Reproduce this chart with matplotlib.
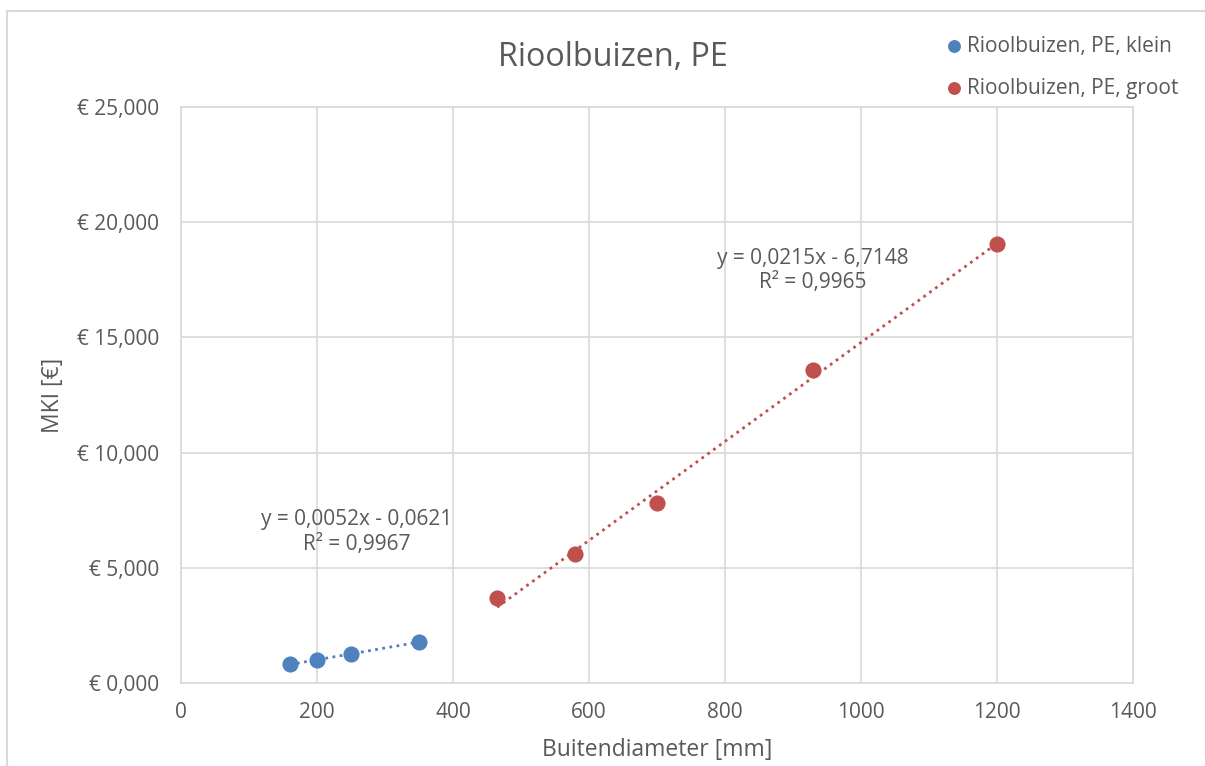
import numpy as np
import matplotlib
matplotlib.use("Agg")
import matplotlib.pyplot as plt
from matplotlib.lines import Line2D

# Data
klein_x = [160, 200, 250, 350]
klein_y = [0.83, 0.99, 1.24, 1.79]
groot_x = [465, 580, 700, 930, 1200]
groot_y = [3.67, 5.60, 7.80, 13.60, 19.07]
klein_label = "Rioolbuizen, PE, klein"
groot_label = "Rioolbuizen, PE, groot"
klein_eq = "y = 0,0052x - 0,0621\nR² = 0,9967"
groot_eq = "y = 0,0215x - 6,7148\nR² = 0,9965"
title = "Rioolbuizen, PE"
xlabel = "Buitendiameter [mm]"
ylabel = "MKI [€]"
xticks = [0, 200, 400, 600, 800, 1000, 1200, 1400]
yticks = [0, 5, 10, 15, 20, 25]

BLUE = "#4F81BD"
RED = "#C0504D"
TXT = "#595959"
GRID = "#D9D9D9"

plt.rcParams['font.family'] = ['Open Sans', 'DejaVu Sans']

fig = plt.figure(figsize=(12.05, 7.66), dpi=100)
ax = fig.add_axes([181/1205, 1-683/766, (1133-181)/1205, (683-107)/766])

# trendlines
for xs, ys, c in [(klein_x, klein_y, BLUE), (groot_x, groot_y, RED)]:
    k, b = np.polyfit(xs, ys, 1)
    xx = np.array([min(xs), max(xs)])
    ax.plot(xx, k*xx + b, color=c, lw=2.0, ls=(0, (1, 1.6)), zorder=2)

ax.scatter(klein_x, klein_y, s=135, color=BLUE, zorder=3, label=klein_label, linewidths=0)
ax.scatter(groot_x, groot_y, s=135, color=RED, zorder=3, label=groot_label, linewidths=0)

ax.set_xlim(0, 1400)
ax.set_ylim(0, 25)
ax.set_xticks(xticks)
ax.set_yticks(yticks)
ax.set_yticklabels([("€ %.3f" % v).replace('.', ',') for v in yticks])
ax.grid(True, color=GRID, lw=1.2)
ax.set_axisbelow(True)
for s in ax.spines.values():
    s.set_color(GRID)
    s.set_linewidth(1.2)
ax.tick_params(length=0, labelsize=15, colors=TXT, pad=16)
ax.tick_params(axis='x', pad=14)

ax.text(259, 6.55, klein_eq, ha='center', va='center', fontsize=15, color=TXT, linespacing=1.2)
ax.text(929, 17.9, groot_eq, ha='center', va='center', fontsize=15, color=TXT, linespacing=1.2)

fig.text(613/1205, 1-57/766, title, ha='center', va='center', fontsize=23.3, color=TXT)
fig.text(657/1205, 1-750/766, xlabel, ha='center', va='center', fontsize=16.5, color=TXT)
fig.text(53/1205, 1-395/766, ylabel, ha='center', va='center', fontsize=16.5, color=TXT, rotation=90)

leg = fig.legend(loc='upper left', bbox_to_anchor=(924/1205, 1-17/766), frameon=False,
                 fontsize=15, labelspacing=1.0, handletextpad=0.05, handlelength=1.1,
                 markerscale=0.8)
for t in leg.get_texts():
    t.set_color(TXT)

# figure border (left and top)
fig.add_artist(Line2D([7.5/1205, 7.5/1205], [0, 1-11/766], transform=fig.transFigure, color=GRID, lw=1.5))
fig.add_artist(Line2D([7.5/1205, 1], [1-11/766, 1-11/766], transform=fig.transFigure, color=GRID, lw=1.5))

fig.savefig("out.png", dpi=100)
